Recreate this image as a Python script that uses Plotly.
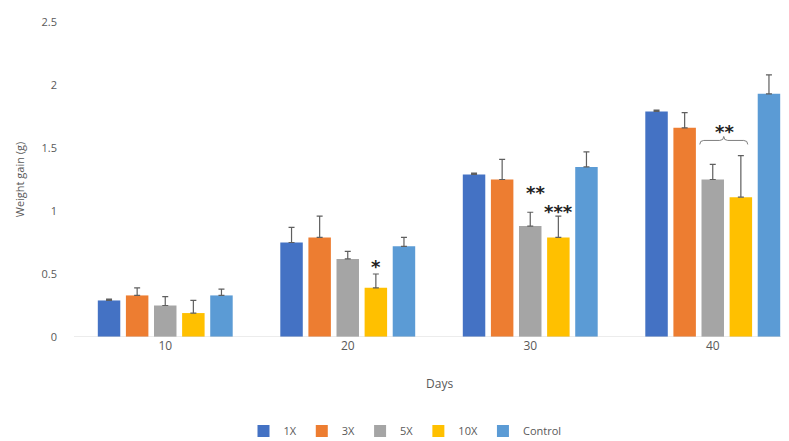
import plotly.graph_objects as go

days = ["10", "20", "30", "40"]
series = ["1X", "3X", "5X", "10X", "Control"]
colors = ["#4472C4", "#ED7D31", "#A5A5A5", "#FFC000", "#5B9BD5"]
v_1x = [0.29, 0.75, 1.29, 1.79]
v_3x = [0.33, 0.79, 1.25, 1.66]
v_5x = [0.25, 0.62, 0.88, 1.25]
v_10x = [0.19, 0.39, 0.79, 1.11]
v_ctrl = [0.33, 0.72, 1.35, 1.93]
e_1x = [0.01, 0.12, 0.01, 0.01]
e_3x = [0.06, 0.17, 0.16, 0.12]
e_5x = [0.07, 0.06, 0.11, 0.12]
e_10x = [0.10, 0.11, 0.17, 0.33]
e_ctrl = [0.05, 0.07, 0.12, 0.15]
y_ticks = [0, 0.5, 1, 1.5, 2, 2.5]
y_ticktext = ["0", "0.5", "1", "1.5", "2", "2.5"]

values = [v_1x, v_3x, v_5x, v_10x, v_ctrl]
errors = [e_1x, e_3x, e_5x, e_10x, e_ctrl]

FONT = "Open Sans"
GRAY = "#595959"

fig = go.Figure()
for name, col, v, e in zip(series, colors, values, errors):
    fig.add_trace(go.Bar(
        x=days, y=v, name=name, marker=dict(color=col, line=dict(width=0)),
        error_y=dict(type="data", symmetric=False, array=e, arrayminus=[0] * len(e),
                     color="#5f5f5f", thickness=1.2, width=3),
    ))

# page has an 8px body margin: figure covers page x 8..789, y 8..441
OFF = 8
W, H = 789 - OFF, 441 - OFF
L, T, B = 74 - OFF, 22 - OFF, 104
PH = H - T - B
pitch = 182.5
xmax = -0.5 + (W - L) / pitch

def py(page_y):
    """page pixel y -> paper coordinate"""
    return (337 - page_y) / PH

fig.update_layout(
    width=W, height=H,
    margin=dict(l=L, r=0, t=T, b=B, autoexpand=False),
    paper_bgcolor="white", plot_bgcolor="white",
    barmode="group", bargap=0.23, bargroupgap=0.2,
    font=dict(family=FONT, size=11, color=GRAY),
    showlegend=True,
    legend=dict(orientation="h", x=(405 - 74) / (W - L), xanchor="center",
                y=py(431), yanchor="middle",
                font=dict(size=11, color=GRAY), itemwidth=30,
                traceorder="normal"),
    xaxis=dict(range=[-0.5, xmax], showgrid=False, showline=False, ticks="",
               tickfont=dict(size=12, color=GRAY), zeroline=False, automargin=False),
    yaxis=dict(range=[0, 2.5], tickvals=y_ticks, ticktext=y_ticktext,
               showgrid=False, zeroline=False, showline=False, ticks="",
               tickfont=dict(size=11, color=GRAY), automargin=False, ticklabelstandoff=16,
               title=dict(text="Weight gain (g)", font=dict(size=11, color=GRAY), standoff=14)),
)

# baseline
fig.add_shape(type="line", xref="paper", yref="y", x0=0, x1=1, y0=0, y1=0,
              line=dict(color="#d9d9d9", width=1))

# x-axis title centred on the full category span
fig.add_annotation(text="Days", xref="x", yref="paper", x=1.5, y=py(383),
                   yanchor="middle", showarrow=False, font=dict(size=12, color=GRAY))

# significance marks (x given as category index)
star_font = dict(family="DejaVu Sans", size=18, color="#222222")
def stars(text, cat, yv, shift):
    fig.add_annotation(text="<b>" + text + "</b>", x=cat, y=yv, xref="x", yref="y",
                       xshift=shift, yanchor="middle", showarrow=False, font=star_font)

stars("*", 1, 0.56, 28)
stars("**", 2, 1.15, 5)
stars("***", 2, 1.00, 28)
stars("**", 3, 1.63, 12)

# curly bracket over 5X and 10X at day 40
fig.add_shape(type="path", xref="x", yref="y", xsizemode="pixel", xanchor=3,
              ysizemode="pixel", yanchor=1.56,
              path="M -13,-4 Q -13,0 -9,0 L 7,0 Q 11,0 11,4 Q 11,0 15,0 L 31,0 Q 35,0 35,-4",
              line=dict(color="#7f7f7f", width=1))

fig.write_html("out.html")
